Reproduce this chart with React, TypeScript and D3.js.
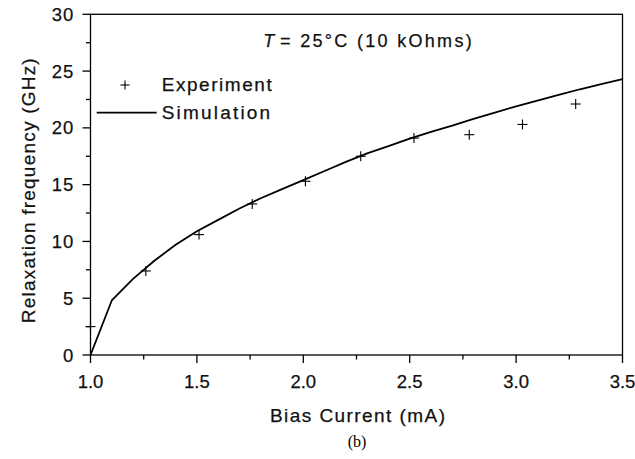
import React from "react";
import * as d3 from "d3";

const expCurrent = [1.0, 1.26, 1.51, 1.76, 2.01, 2.27, 2.52, 2.78, 3.03, 3.28];
const expFreq = [2.5, 7.4, 10.6, 13.3, 15.3, 17.5, 19.1, 19.4, 20.3, 22.1];

const simCurrent = [1.0, 1.1, 1.2, 1.3, 1.4, 1.5, 1.6, 1.7, 1.8, 1.9, 2.0, 2.1, 2.2, 2.3, 2.4, 2.5, 2.6, 2.7, 2.8, 2.9, 3.0, 3.1, 3.2, 3.3, 3.4, 3.5];
const simFreq = [0, 4.8, 6.7, 8.3, 9.7, 10.9, 11.9, 12.9, 13.8, 14.6, 15.4, 16.2, 17.0, 17.75, 18.4, 19.05, 19.65, 20.2, 20.8, 21.35, 21.9, 22.4, 22.9, 23.4, 23.85, 24.3];

const xTicks = [1.0, 1.5, 2.0, 2.5, 3.0, 3.5];
const xMinor = [1.25, 1.75, 2.25, 2.75, 3.25];
const yTicks = [0, 5, 10, 15, 20, 25, 30];
const yMinor = [2.5, 7.5, 12.5, 17.5, 22.5, 27.5];

const W = 635;
const H = 459;
const left = 90.5;
const right = 622.5;
const top = 14.3;
const bottom = 355;

const FONT = "'Liberation Sans', Arial, Helvetica, sans-serif";

export default function App() {
  const x = d3.scaleLinear().domain([1, 3.5]).range([left, right]);
  const y = d3.scaleLinear().domain([0, 30]).range([bottom, top]);
  const line = d3
    .line<number>()
    .x((_, i) => x(simCurrent[i]))
    .y((d) => y(d));
  const simPath = line(simFreq) || "";

  const cross = (cx: number, cy: number, r: number, key: string | number) => (
    <g key={key} stroke="#000" strokeWidth={1.1}>
      <line x1={cx - r} x2={cx + r} y1={cy} y2={cy} />
      <line x1={cx} x2={cx} y1={cy - r} y2={cy + r} />
    </g>
  );

  const txt = { fill: "#111", stroke: "#111", strokeWidth: 0.25 };

  return (
    <svg
      width={W}
      height={H}
      viewBox={`0 0 ${W} ${H}`}
      style={{ position: "absolute", left: 0, top: 0, background: "#fff" }}
      fontFamily={FONT}
    >
      <rect x={0} y={0} width={W} height={H} fill="#fff" />
      <rect
        x={left}
        y={top}
        width={right - left}
        height={bottom - top}
        fill="none"
        stroke="#000"
        strokeWidth={1.3}
      />
      {xTicks.map((t) => (
        <line key={"xt" + t} x1={x(t)} x2={x(t)} y1={bottom} y2={bottom + 8} stroke="#000" strokeWidth={1.3} />
      ))}
      {xMinor.map((t) => (
        <line key={"xm" + t} x1={x(t)} x2={x(t)} y1={bottom} y2={bottom + 4.5} stroke="#000" strokeWidth={1.3} />
      ))}
      {xTicks.map((t) => (
        <text key={"xl" + t} x={x(t)} y={387.5} fontSize={18.5} textAnchor="middle" {...txt}>
          {t.toFixed(1)}
        </text>
      ))}
      {yTicks.map((t) => (
        <line key={"yt" + t} x1={left - 8} x2={left} y1={y(t)} y2={y(t)} stroke="#000" strokeWidth={1.3} />
      ))}
      {yMinor.map((t) => (
        <line key={"ym" + t} x1={left - 4.5} x2={left} y1={y(t)} y2={y(t)} stroke="#000" strokeWidth={1.3} />
      ))}
      {yTicks.map((t) => (
        <text key={"yl" + t} x={74} y={y(t) + 6.6} fontSize={18.5} textAnchor="end" letterSpacing={0.8} {...txt}>
          {t}
        </text>
      ))}
      <text x={270} y={421.7} fontSize={19} textLength={175} lengthAdjust="spacing" {...txt}>
        Bias Current (mA)
      </text>
      <text
        transform={`translate(34.5,${323.3}) rotate(-90)`}
        x={0}
        y={0}
        fontSize={19}
        textLength={265}
        lengthAdjust="spacing"
        {...txt}
      >
        Relaxation frequency (GHz)
      </text>
      <text x={357} y={447} fontSize={16} textAnchor="middle" fontFamily="'Liberation Serif', 'Times New Roman', serif" fill="#000">
        (b)
      </text>
      <path d={simPath} fill="none" stroke="#000" strokeWidth={1.8} strokeLinejoin="round" />
      {expCurrent.map((c, i) => cross(x(c), y(expFreq[i]), 5, "e" + i))}
      <text x={263.3} y={47.3} fontSize={18} fontStyle="italic" {...txt}>
        T
      </text>
      <text x={280} y={47.3} fontSize={18} textLength={191.7} lengthAdjust="spacing" {...txt}>
        = 25°C (10 kOhms)
      </text>
      {cross(125, 85, 4.5, "leg")}
      <text x={161.7} y={91} fontSize={19} textLength={110} lengthAdjust="spacing" {...txt}>
        Experiment
      </text>
      <line x1={96.7} x2={156.7} y1={112.7} y2={112.7} stroke="#000" strokeWidth={1.8} />
      <text x={161.7} y={119.4} fontSize={19} textLength={108.5} lengthAdjust="spacing" {...txt}>
        Simulation
      </text>
    </svg>
  );
}
